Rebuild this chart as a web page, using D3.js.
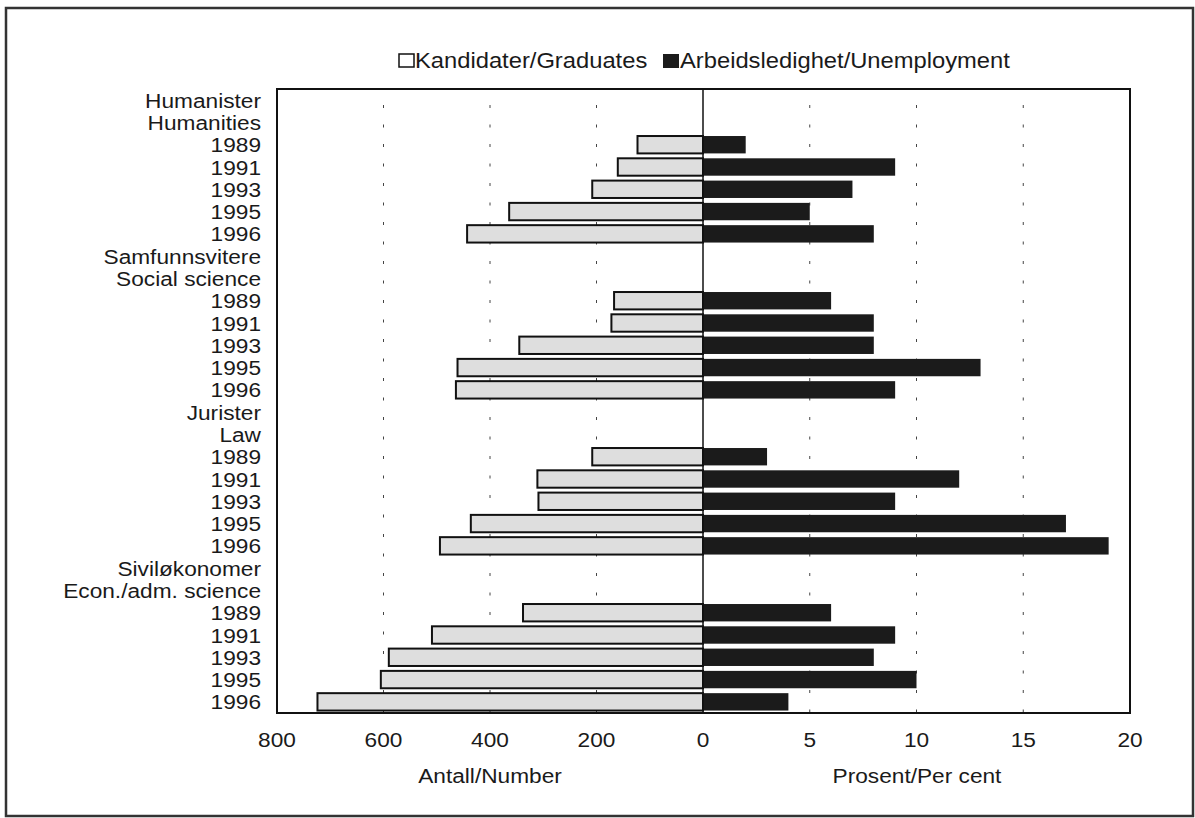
<!DOCTYPE html>
<head>
    <meta charset="utf-8">
    <script src="https://d3js.org/d3.v7.min.js"></script>
</head>
<body style="margin:0;background:#fff">
<svg class="chart" width="1195" height="818"></svg>
<script>

// groups: norwegian name, english name
var groupsNo = ["Humanister", "Samfunnsvitere", "Jurister", "Siviløkonomer"];
var groupsEn = ["Humanities", "Social science", "Law", "Econ./adm. science"];
var years = ["1989", "1991", "1993", "1995", "1996"];

// number of graduates, per group and year
var graduates = [
    [123, 160, 208, 364, 443],
    [167, 172, 345, 461, 464],
    [208, 311, 309, 436, 494],
    [338, 509, 590, 605, 724]
];
// unemployment, per cent
var unemployment = [
    [2, 9, 7, 5, 8],
    [6, 8, 8, 13, 9],
    [3, 12, 9, 17, 19],
    [6, 9, 8, 10, 4]
];

var leftTicks = [800, 600, 400, 200, 0];
var rightTicks = [5, 10, 15, 20];

var font = "'Liberation Sans', Arial, sans-serif";
var stretch = 1.08;   // the original type is a bit wider than Arial

// build the rows: two label rows for each group then one per year
var rows = [];
groupsNo.forEach(function(g, gi) {
    rows.push({id: "h" + gi + "a", label: g});
    rows.push({id: "h" + gi + "b", label: groupsEn[gi]});
    years.forEach(function(yr, yi) {
        rows.push({id: "r" + gi + "-" + yi, label: yr, n: graduates[gi][yi], p: unemployment[gi][yi]});
    });
});

var plot = {left: 277, right: 1130, top: 89, bottom: 713, zero: 703};

var xl = d3.scaleLinear().domain([800, 0]).range([plot.left, plot.zero]);
var xr = d3.scaleLinear().domain([0, 20]).range([plot.zero, plot.right]);
var y = d3.scaleBand()
    .domain(rows.map(function(d) { return d.id; }))
    .range([plot.top, plot.bottom])
    .paddingInner(0.22)
    .paddingOuter(0.11);

var svg = d3.select(".chart");

// helper: text drawn a little wider
function wideText(parent, x, yy, str, size, anchor) {
    return parent.append("text")
        .attr("transform", "translate(" + x + "," + yy + ") scale(" + stretch + ",1)")
        .attr("text-anchor", anchor || "start")
        .style("font", size + "px " + font)
        .attr("fill", "#1a1a1a")
        .text(str);
}

// outer frame
svg.append("rect")
    .attr("x", 6).attr("y", 8)
    .attr("width", 1187).attr("height", 808)
    .attr("fill", "none")
    .attr("stroke", "#333")
    .attr("stroke-width", 2.5);

// dotted grid lines
var grid = svg.append("g").attr("class", "grid");
grid.selectAll("line.gl")
    .data([600, 400, 200]).enter()
    .append("line")
    .attr("x1", function(d) { return xl(d); })
    .attr("x2", function(d) { return xl(d); })
    .attr("y1", plot.top).attr("y2", plot.bottom)
    .attr("stroke", "#444").attr("stroke-width", 1)
    .attr("stroke-dasharray", "3,16.5")
    .attr("stroke-dashoffset", -16);
grid.selectAll("line.gr")
    .data([5, 10, 15]).enter()
    .append("line")
    .attr("x1", function(d) { return xr(d); })
    .attr("x2", function(d) { return xr(d); })
    .attr("y1", plot.top).attr("y2", plot.bottom)
    .attr("stroke", "#444").attr("stroke-width", 1)
    .attr("stroke-dasharray", "3,16.5")
    .attr("stroke-dashoffset", -16);

var dataRows = rows.filter(function(d) { return d.n !== undefined; });

// graduates bars (left)
svg.selectAll("rect.grad")
    .data(dataRows).enter()
    .append("rect")
    .attr("class", "grad")
    .attr("x", function(d) { return xl(d.n); })
    .attr("y", function(d) { return y(d.id); })
    .attr("width", function(d) { return plot.zero - xl(d.n); })
    .attr("height", y.bandwidth())
    .attr("fill", "#dedede")
    .attr("stroke", "#111")
    .attr("stroke-width", 2);

// unemployment bars (right)
svg.selectAll("rect.unemp")
    .data(dataRows).enter()
    .append("rect")
    .attr("class", "unemp")
    .attr("x", plot.zero)
    .attr("y", function(d) { return y(d.id); })
    .attr("width", function(d) { return xr(d.p) - plot.zero; })
    .attr("height", y.bandwidth())
    .attr("fill", "#1b1b1b");

// plot frame and zero line
svg.append("rect")
    .attr("x", plot.left).attr("y", plot.top)
    .attr("width", plot.right - plot.left)
    .attr("height", plot.bottom - plot.top)
    .attr("fill", "none")
    .attr("stroke", "#111")
    .attr("stroke-width", 2);
svg.append("line")
    .attr("x1", plot.zero).attr("x2", plot.zero)
    .attr("y1", plot.top).attr("y2", plot.bottom)
    .attr("stroke", "#111").attr("stroke-width", 1.5);

// row labels
rows.forEach(function(d) {
    wideText(svg, 261, y(d.id) + y.bandwidth() / 2 + 7.5, d.label, 21, "end");
});

// x tick labels
leftTicks.forEach(function(d) {
    wideText(svg, xl(d), 747, d, 21, "middle");
});
rightTicks.forEach(function(d) {
    wideText(svg, xr(d), 747, d, 21, "middle");
});

// axis titles
wideText(svg, 490, 783, "Antall/Number", 21, "middle");
wideText(svg, 917, 783, "Prosent/Per cent", 21, "middle");

// legend
var legend = svg.append("g");
legend.append("rect")
    .attr("x", 399).attr("y", 54).attr("width", 15).attr("height", 13)
    .attr("fill", "#fff").attr("stroke", "#111").attr("stroke-width", 1.5);
wideText(legend, 415, 68, "Kandidater/Graduates", 22);
legend.append("rect")
    .attr("x", 663).attr("y", 54).attr("width", 16).attr("height", 14)
    .attr("fill", "#1b1b1b");
wideText(legend, 680, 68, "Arbeidsledighet/Unemployment", 22);

</script>
</body>
